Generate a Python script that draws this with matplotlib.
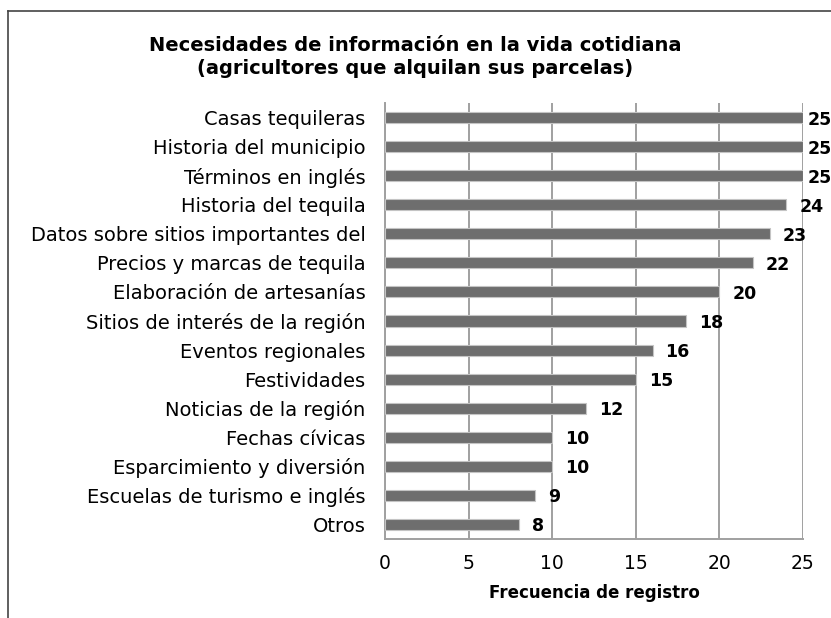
import matplotlib
matplotlib.use("Agg")
import matplotlib.pyplot as plt
from matplotlib.lines import Line2D

categories = [
    "Casas tequileras",
    "Historia del municipio",
    "Términos en inglés",
    "Historia del tequila",
    "Datos sobre sitios importantes del",
    "Precios y marcas de tequila",
    "Elaboración de artesanías",
    "Sitios de interés de la región",
    "Eventos regionales",
    "Festividades",
    "Noticias de la región",
    "Fechas cívicas",
    "Esparcimiento y diversión",
    "Escuelas de turismo e inglés",
    "Otros",
]
values = [25, 25, 25, 24, 23, 22, 20, 18, 16, 15, 12, 10, 10, 9, 8]
xticks = [0, 5, 10, 15, 20, 25]

W, H = 831, 618
fig = plt.figure(figsize=(W / 100, H / 100), dpi=100)
ax = fig.add_axes([385 / W, 1 - 539 / H, (803 - 385) / W, (539 - 103) / H])

n = len(categories)
ypos = list(range(n - 1, -1, -1))
ax.barh(ypos, values, height=0.38, color="#6e6e6e", edgecolor="#c4c4c4", linewidth=0.8, zorder=3)
ax.set_ylim(-0.5, n - 0.5)
ax.set_xlim(0, 25)
ax.set_yticks(ypos)
ax.set_yticklabels(categories, fontsize=14)
ax.set_xticks(xticks)
ax.set_xticklabels([str(t) for t in xticks], fontsize=13.5)
ax.tick_params(axis="both", length=0)
ax.tick_params(axis="y", pad=14)
ax.tick_params(axis="x", pad=11)
ax.grid(axis="x", color="#a0a0a0", linewidth=1.4, zorder=0)
for s in ["top", "right"]:
    ax.spines[s].set_visible(False)
for s in ["left", "bottom"]:
    ax.spines[s].set_color("#a0a0a0")
    ax.spines[s].set_linewidth(1.4)
ax.set_xlabel("Frecuencia de registro", fontsize=12, fontweight="bold", labelpad=8)

for y, v in zip(ypos, values):
    off = 5 if v == 25 else 13
    ax.annotate(str(v), xy=(v, y), xytext=(off, -2), textcoords="offset pixels",
                ha="left", va="center", fontsize=12.5, fontweight="bold", zorder=4,
                annotation_clip=False)

fig.text(415 / W, 1 - 57 / H, "Necesidades de información en la vida cotidiana\n(agricultores que alquilan sus parcelas)",
         ha="center", va="center", fontsize=14, fontweight="bold", linespacing=1.3)

fig.add_artist(Line2D([8 / W, 8 / W], [0, 1 - 11 / H], color="#444444", linewidth=1.2))
fig.add_artist(Line2D([8 / W, 1], [1 - 11 / H, 1 - 11 / H], color="#444444", linewidth=1.2))

fig.savefig("out.png", dpi=100)
